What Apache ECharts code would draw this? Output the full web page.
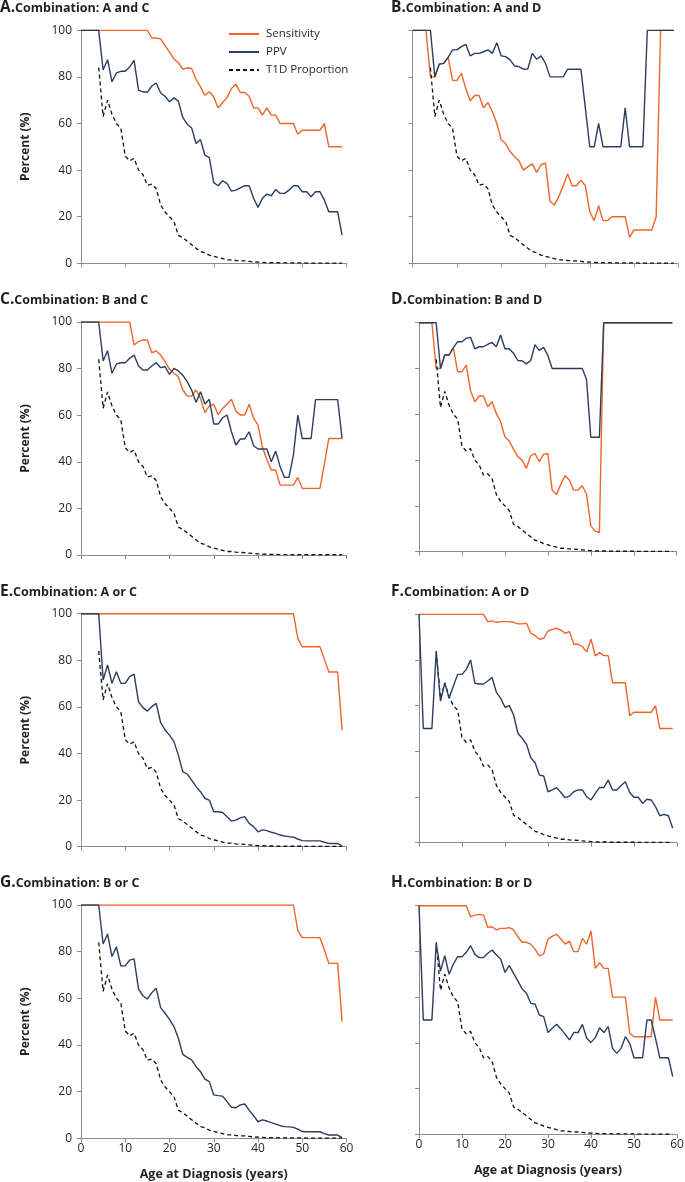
<!DOCTYPE html>
<html>
<head>
<meta charset="utf-8">
<script src="https://cdn.jsdelivr.net/npm/echarts@6/dist/echarts.min.js"></script>
<style>
  html, body { margin: 0; padding: 0; background: #fff; }
  #chart { width: 685px; height: 1182px; }
</style>
</head>
<body>
<div id="chart"></div>
<script>
// Age at diagnosis (years)
const ages = [0,1,2,3,4,5,6,7,8,9,10,11,12,13,14,15,16,17,18,19,20,21,22,23,24,25,26,27,28,29,
              30,31,32,33,34,35,36,37,38,39,40,41,42,43,44,45,46,47,48,49,50,51,52,53,54,55,56,57,58,59];

// T1D proportion, same in every panel
const t1dProportion = [null,null,null,null,84,63,70,64,60,58,46,44,45,40,38,33.5,34,32,25,22,20,18,12,11,9.5,8,6.5,5,4.5,3.5,
                       3,2.5,2,1.5,1.5,1.2,1.1,1,0.8,0.6,0.5,0.4,0.3,0.3,0.3,0.2,0.2,0.2,0.2,0.2,0.2,0.1,0.1,0.1,0.1,0.1,0.1,0.1,0.1,0.1];

// A. A and C
const sensA = [100,100,100,100,100,100,100,100,100,100,100,100,100,100,100,100,96.7,96.7,96.3,93.4,90.6,87.7,86.1,83.3,83.9,83.6,79,75.7,72.1,73.6,
               71.4,66.7,69,71.1,75,76.9,73.3,73.3,71.7,66.7,66.7,63.6,66.7,63.6,63.6,60,60,60,60,55.4,57.1,57.1,57.1,57.1,57.1,60,50,50,50,50];
const ppvA = [100,100,100,100,100,83,87.4,77.9,81.7,82.4,82.4,84.3,87.1,74.3,73.6,73.4,76.1,77.4,73.1,71.7,69.3,71,69.6,62.6,59.7,58.1,51.4,53.1,46.4,45.4,
              34.6,33.3,35.4,34.3,31,31.4,32.4,33.3,33.3,27.9,24,27.9,29.7,29,31.7,30,30,31.4,33.3,33.3,30.7,30.7,28.6,30.7,30.7,27.1,22.1,22.1,22.1,12.1];

// B. A and D
const sensB = [100,100,100,100,80,80,85.5,85.8,88.4,78.5,78.5,81.5,75,69.7,72,72,66.7,69,65,60,53,51.4,48,45.7,44,40,41.4,42.7,39,42.3,
               43,26.6,25,28.6,33.3,38.4,33.3,33.3,35.7,33.3,22.1,18.3,24.7,18.3,18.3,20,20,20,20,11.1,14.3,14.3,14.3,14.3,14.3,20,100,100,100,100];
const ppvB = [100,100,100,100,100,80,85.5,85.8,88.4,91.6,91.6,93,94,89,90.1,90.1,90.8,91.6,90.1,94.7,89,88.7,87.3,84.7,84.4,83.3,83.4,90.1,87.6,89,
              85.8,80,80,80,80,83.3,83.3,83.3,83.3,66.7,50,50,60,50,50,50,50,50,66.7,50,50,50,50,100,100,100,100,100,100,100];

// C. B and C
const sensC = [100,100,100,100,100,100,100,100,100,100,100,100,90.1,91.6,92.3,92.3,86.8,87.6,85.8,83,79.7,78,76.5,70.8,68.2,68.2,70.8,67.2,61.1,64,
               64.7,60.1,62.9,64.7,66.8,61.8,60.1,60.1,64.7,58.7,55.8,46.2,41,36.5,36.5,30,30,30,30,33.3,28.6,28.6,28.6,28.6,28.6,39,50,50,50,50];
const ppvC = [100,100,100,100,100,83.3,87.7,78,82,82.5,82.5,84.4,85.8,81.1,79.4,79.4,81.1,82.5,80.4,80.8,77.5,80.1,79,77.2,74.4,70.8,65.5,70.1,64.8,66.8,
              56.2,56.2,58.9,60.1,52.9,47.2,49.8,49.8,52.9,46.9,45.5,45.5,45.5,40,44.6,37.9,33.3,33.3,42.9,60,50,50,50,66.7,66.7,66.7,66.7,66.7,66.7,50];

// D. B and D
const sensD = [100,100,100,100,80,80,85.9,85.9,89,78.6,78.6,81.5,70.2,65.5,68,68,63.3,65.5,60.4,56.8,50.2,48.3,44.8,41.5,40,36.4,41.9,42.9,39.3,42.5,
               42.9,26.9,25,29.4,33.2,31.3,26.9,26.9,28.8,25.2,11.4,9,8.4,100,100,100,100,100,100,100,100,100,100,100,100,100,100,100,100,100];
const ppvD = [100,100,100,100,100,80,85.9,85.9,89.1,91.7,91.7,93.2,93.6,88.6,89.5,89.5,90.5,91.4,89.5,94.6,88.6,88.6,86.7,83.5,83.4,82,83.4,90.4,87.9,89.2,
              85.7,80,80,80,80,80,80,80,80,75.3,50,50,50,100,100,100,100,100,100,100,100,100,100,100,100,100,100,100,100,100];

// E. A or C
const sensE = [100,100,100,100,100,100,100,100,100,100,100,100,100,100,100,100,100,100,100,100,100,100,100,100,100,100,100,100,100,100,
               100,100,100,100,100,100,100,100,100,100,100,100,100,100,100,100,100,100,100,89.4,85.8,85.8,85.8,85.8,85.8,80.5,75,75,75,50];
const ppvE = [100,100,100,100,100,71.5,78,70.1,75.1,70.1,70.1,73,74.1,62.2,59.7,58.2,60.1,61.5,53.2,50.1,47.9,45.1,39.3,32.2,31.2,28.6,25.8,23.6,20.7,20,
              15,15,14.7,12.9,11,11.4,12.4,12.9,10,8.6,6.4,7.2,6.9,6.2,5.7,5,4.6,4.3,4.1,3.3,2.6,2.5,2.5,2.5,2.5,1.9,1.4,1.4,1.4,0.3];

// F. A or D
const sensF = [100,100,100,100,100,100,100,100,100,100,100,100,100,100,100,100,96.8,97.1,96.5,96.8,96.8,96.8,96.5,95.8,95.8,96.1,91.7,90.7,89.1,89.5,
               92.7,93.4,93.9,93.1,91.7,92.4,86.9,86.9,85.8,83.6,89.1,81.8,83.2,81.9,81.9,70,70,70,70,55.6,57.1,57.1,57.1,57.1,57.1,60,50,50,50,50];
const ppvF = [100,50,50,50,83.6,62,70,63.2,68.6,73.7,73.7,75.9,80,69.8,69.5,69.5,70.8,72.3,65.8,63.2,59.3,60,55.9,47.9,45.7,43.1,37.2,35,29.6,29.2,
              22.3,23.1,24.1,22,19.7,20.4,22.3,23.1,23.1,20.1,18.7,21.6,24.2,24.2,27.4,23.1,23.1,25,26.7,22,19.9,19.9,17.2,19,18.7,15.8,11.8,12.4,11.8,6.3];

// G. B or C
const sensG = [100,100,100,100,100,100,100,100,100,100,100,100,100,100,100,100,100,100,100,100,100,100,100,100,100,100,100,100,100,100,
               100,100,100,100,100,100,100,100,100,100,100,100,100,100,100,100,100,100,100,89,86,86,86,86,86,80.7,75,75,75,50];
const ppvG = [100,100,100,100,100,83.3,87.6,77.9,82.1,73.9,73.9,76.4,76.9,63.9,61.1,59.7,62.4,64.3,56,53.6,51,47.9,42.9,36,34.7,33.6,30.7,28.6,25.4,24.3,
              18.6,18.3,18.1,15.7,13.3,13.1,14.3,14.7,12.1,9.7,7.1,7.9,7.4,6.7,6.1,5.4,5,4.9,4.7,3.9,2.9,2.8,2.8,2.8,2.8,2,1.4,1.4,1.4,0.3];

// H. B or D
const sensH = [100,100,100,100,100,100,100,100,100,100,100,100,95.2,95.9,96.2,95.9,90.5,90.8,89.4,90.1,90.1,90.4,89.4,86.4,84,84,83.2,80.9,78,78.9,
               85.4,86.7,87.5,85.4,83.2,84.5,79.9,79.9,85.7,83.2,88.9,72.6,75.1,72.6,72.6,60,60,60,60,44.2,42.7,42.7,42.7,42.7,42.7,60,50,50,50,50];
const ppvH = [100,50,50,50,83.5,71.4,78.1,70,74.5,77.7,77.7,79.6,82.5,78.7,77.3,77.3,79.2,80.6,78.4,76.7,70.8,73.8,70.4,67,63.6,61.7,57.3,56.9,52.2,51.5,
              44.5,46.4,48.1,46.1,43.7,41.3,44.5,44.5,48.1,42,40.2,42.3,46.6,44.5,47.1,37.6,35.4,37.6,42.7,39.8,33.5,33.5,33.5,50,50,42,33.5,33.5,33.5,25.2];

const panelLetters = ['A.', 'B.', 'C.', 'D.', 'E.', 'F.', 'G.', 'H.'];
const panelTitles = ['Combination: A and C', 'Combination: A and D', 'Combination: B and C', 'Combination: B and D',
                     'Combination: A or C', 'Combination: A or D', 'Combination: B or C', 'Combination: B or D'];
const sensitivity = [sensA, sensB, sensC, sensD, sensE, sensF, sensG, sensH];
const ppv = [ppvA, ppvB, ppvC, ppvD, ppvE, ppvF, ppvG, ppvH];

const boxes = [
  [81, 30.3, 265.5, 233], [412.7, 30.3, 265.6, 233],
  [81, 322, 265.5, 233], [419, 322.7, 257.7, 229],
  [81, 613.7, 265.5, 233], [419, 614.3, 258, 228.4],
  [81, 905, 265.5, 233.3], [419, 905.7, 258, 228.6]
];
const titleTops = [0, 0, 292, 292, 584, 584, 875, 875];

const ORANGE = '#f0652a';
const NAVY = '#2b3e5f';
const AXIS = '#8c8c8c';
const TEXT = '#231f20';
const FONT = '"Open Sans", "Noto Sans", sans-serif';

const pairs = arr => ages.map((a, k) => [a, arr[k]]);

const grid = [], xAxis = [], yAxis = [], series = [], title = [];

boxes.forEach((b, i) => {
  const isLeft = i % 2 === 0;
  const isBottom = i >= 6;
  // fixed boxes: do not let v6 shrink the grid to fit the axis names
  grid.push({ left: b[0], top: b[1], width: b[2], height: b[3], outerBoundsMode: 'none', containLabel: false });

  xAxis.push({
    type: 'value', gridIndex: i, min: 0, max: 60, interval: 10,
    axisLine: { lineStyle: { color: AXIS, width: 1 } },
    axisTick: { show: true, length: 4, lineStyle: { color: AXIS } },
    axisLabel: { show: isBottom, margin: 4, color: TEXT, fontSize: 12, fontFamily: FONT },
    splitLine: { show: false },
    name: isBottom ? 'Age at Diagnosis (years)' : '',
    nameLocation: 'middle', nameGap: 30,
    nameTextStyle: { color: TEXT, fontSize: 12.5, fontWeight: 'bold', fontFamily: FONT }
  });

  yAxis.push({
    type: 'value', gridIndex: i, min: 0, max: 100, interval: 20,
    axisLine: { show: true, lineStyle: { color: AXIS, width: 1 } },
    axisTick: { show: true, length: 4, lineStyle: { color: AXIS } },
    axisLabel: { show: isLeft, margin: 9, color: TEXT, fontSize: 12, fontFamily: FONT },
    splitLine: { show: false },
    name: isLeft ? 'Percent (%)' : '',
    nameLocation: 'middle', nameGap: 49,
    nameTextStyle: { color: TEXT, fontSize: 12, fontWeight: 'bold', fontFamily: FONT }
  });

  title.push({
    left: isLeft ? 0 : 391, top: titleTops[i], padding: 0,
    text: '{l|' + panelLetters[i] + '}{t|' + panelTitles[i] + '}',
    textStyle: {
      rich: {
        l: { fontSize: 15.5, fontWeight: 'bold', color: TEXT, fontFamily: FONT },
        t: { fontSize: 12.5, fontWeight: 'bold', color: TEXT, fontFamily: FONT, padding: [1, 0, 0, 0] }
      }
    }
  });

  series.push({
    name: 'Sensitivity', type: 'line', xAxisIndex: i, yAxisIndex: i,
    data: pairs(sensitivity[i]), symbol: 'none', silent: true,
    lineStyle: { color: ORANGE, width: 1.4 }, itemStyle: { color: ORANGE }
  });
  series.push({
    name: 'T1D Proportion', type: 'line', xAxisIndex: i, yAxisIndex: i,
    data: pairs(t1dProportion), symbol: 'none', silent: true,
    lineStyle: { color: '#111', width: 1.3, type: [4, 3] }, itemStyle: { color: '#111' }
  });
  series.push({
    name: 'PPV', type: 'line', xAxisIndex: i, yAxisIndex: i,
    data: pairs(ppv[i]), symbol: 'none', silent: true,
    lineStyle: { color: NAVY, width: 1.4 }, itemStyle: { color: NAVY }
  });
});

const chart = echarts.init(document.getElementById('chart'));
chart.setOption({
  backgroundColor: '#fff',
  animation: false,
  title: title,
  legend: {
    data: ['Sensitivity', 'PPV', 'T1D Proportion'],
    orient: 'vertical', left: 228, top: 28, padding: 0,
    itemWidth: 30, itemHeight: 10, itemGap: 6,
    itemStyle: { opacity: 0 },
    textStyle: { color: TEXT, fontSize: 11.5, fontFamily: FONT, padding: [0, 0, 0, 2] }
  },
  grid: grid,
  xAxis: xAxis,
  yAxis: yAxis,
  series: series
});
window.addEventListener('resize', () => chart.resize());
</script>
</body>
</html>
